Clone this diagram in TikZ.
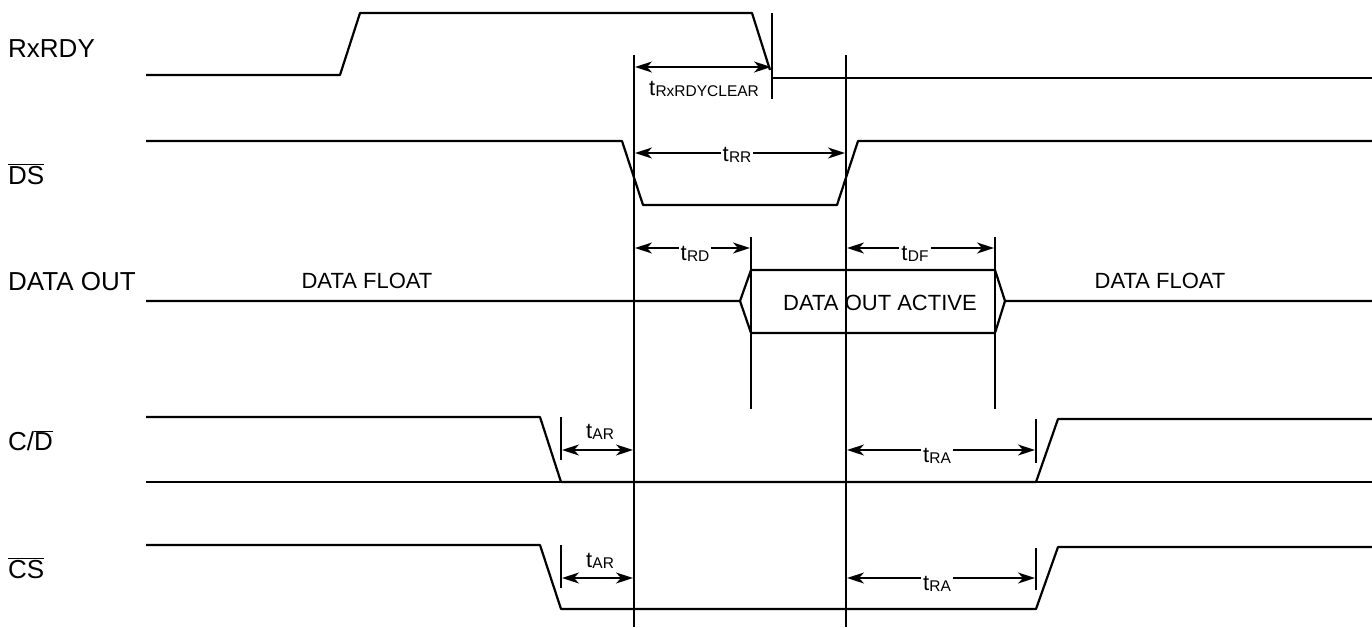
\documentclass[tikz,border=0pt]{standalone}
\usepackage{fontspec}
\setmainfont{Liberation Sans}
\usetikzlibrary{arrows.meta}
\newcommand\tlab[1]{\fontsize{22}{24}\selectfont t\kern0.3pt\raisebox{-1.5pt}{\fontsize{15.5}{16}\selectfont #1}}
\newcommand\ovl[1]{$\overline{\mbox{#1}}$}
\begin{document}
\begin{tikzpicture}[x=1pt,y=-1pt,
  sig/.style={line width=2.2pt,line join=round},
  tickline/.style={line width=2.2pt},
  dimarrow/.style={line width=1.8pt,{Stealth[length=17pt,width=11pt,inset=5pt]}-{Stealth[length=17pt,width=11pt,inset=5pt]},shorten <=1pt,shorten >=1pt},
  siglabel/.style={anchor=base west,inner sep=0pt,font=\fontsize{26}{28}\selectfont},
  txt/.style={anchor=base,inner sep=0pt,font=\fontsize{22}{24}\selectfont},
  tl/.style={anchor=base,inner sep=2pt,fill=white}]
\useasboundingbox (0,0) rectangle (1372,627);

% signal labels
\node[siglabel] (lRx) at (8,57) {RxRDY};
\node[siglabel] (lDS) at (8,184) {\ovl{DS}};
\node[siglabel] (lDO) at (8,290) {DATA OUT};
\node[siglabel] (lCD) at (8,450) {C/\ovl{D}};
\node[siglabel] (lCS) at (8,578) {\ovl{CS}};

% main vertical reference lines
\coordinate (va) at (634,55);  \coordinate (vab) at (634,627);
\coordinate (vb) at (846,55);  \coordinate (vbb) at (846,627);
\draw[tickline] (va) -- (vab);
\draw[tickline] (vb) -- (vbb);

% RxRDY
\draw[sig] (146,75) -- (340,75) -- (360,13) -- (752,13) -- (770,70);
\draw[sig] (772,78) -- (1372,78);
\coordinate (rxt) at (772,13); \coordinate (rxb) at (772,99);
\draw[tickline] (rxt) -- (rxb);
\coordinate (d1a) at (634,67); \coordinate (d1b) at (772,67);
\draw[dimarrow] (d1a) -- (d1b);
\node[tl,anchor=base,fill=none] (tclr) at (704,95) {\tlab{RxRDYCLEAR}};

% DS
\draw[sig] (146,141) -- (622,141) -- (643,205) -- (837,205) -- (858,141) -- (1372,141);
\coordinate (d2a) at (634,153); \coordinate (d2b) at (846,153);
\draw[dimarrow] (d2a) -- (d2b);
\node[tl] (trr) at (737,161) {\tlab{RR}};

% DATA OUT
\draw[sig] (146,301) -- (740,301) -- (751,270) -- (995,270) -- (1005,301) -- (1372,301);
\draw[sig] (740,301) -- (751,333) -- (995,333) -- (1005,301);
\coordinate (dot1) at (751,237); \coordinate (dob1) at (751,409);
\coordinate (dot2) at (995,237); \coordinate (dob2) at (995,409);
\draw[tickline] (dot1) -- (dob1);
\draw[tickline] (dot2) -- (dob2);
\coordinate (d3a) at (634,248); \coordinate (d3b) at (751,248);
\draw[dimarrow] (d3a) -- (d3b);
\node[tl] (trd) at (695,260) {\tlab{RD}};
\coordinate (d4a) at (846,248); \coordinate (d4b) at (995,248);
\draw[dimarrow] (d4a) -- (d4b);
\node[tl] (tdf) at (915,260) {\tlab{DF}};
\node[txt] (dfl) at (367,288) {DATA FLOAT};
\node[txt] (dfr) at (1160,288) {DATA FLOAT};
\node[txt] (doa) at (880,310) {DATA OUT ACTIVE};

% C/D
\draw[sig] (146,417) -- (540,417) -- (561,482) -- (1036,482) -- (1058,419) -- (1372,419);
\draw[sig] (146,482) -- (1372,482);
\coordinate (cdt1) at (561,417); \coordinate (cdb1) at (561,460);
\coordinate (cdt2) at (1036,419); \coordinate (cdb2) at (1036,463);
\draw[tickline] (cdt1) -- (cdb1);
\draw[tickline] (cdt2) -- (cdb2);
\coordinate (d5a) at (561,450); \coordinate (d5b) at (634,450);
\draw[dimarrow] (d5a) -- (d5b);
\node[tl,fill=none] (tar1) at (600,438) {\tlab{AR}};
\coordinate (d6a) at (846,450); \coordinate (d6b) at (1036,450);
\draw[dimarrow] (d6a) -- (d6b);
\node[tl] (tra1) at (937,462) {\tlab{RA}};

% CS
\draw[sig] (146,545) -- (540,545) -- (561,609) -- (1036,609) -- (1058,547) -- (1372,547);
\coordinate (cst1) at (561,545); \coordinate (csb1) at (561,588);
\coordinate (cst2) at (1036,548); \coordinate (csb2) at (1036,590);
\draw[tickline] (cst1) -- (csb1);
\draw[tickline] (cst2) -- (csb2);
\coordinate (d7a) at (561,578); \coordinate (d7b) at (634,578);
\draw[dimarrow] (d7a) -- (d7b);
\node[tl,fill=none] (tar2) at (600,567) {\tlab{AR}};
\coordinate (d8a) at (846,578); \coordinate (d8b) at (1036,578);
\draw[dimarrow] (d8a) -- (d8b);
\node[tl] (tra2) at (937,590) {\tlab{RA}};
\end{tikzpicture}
\end{document}
